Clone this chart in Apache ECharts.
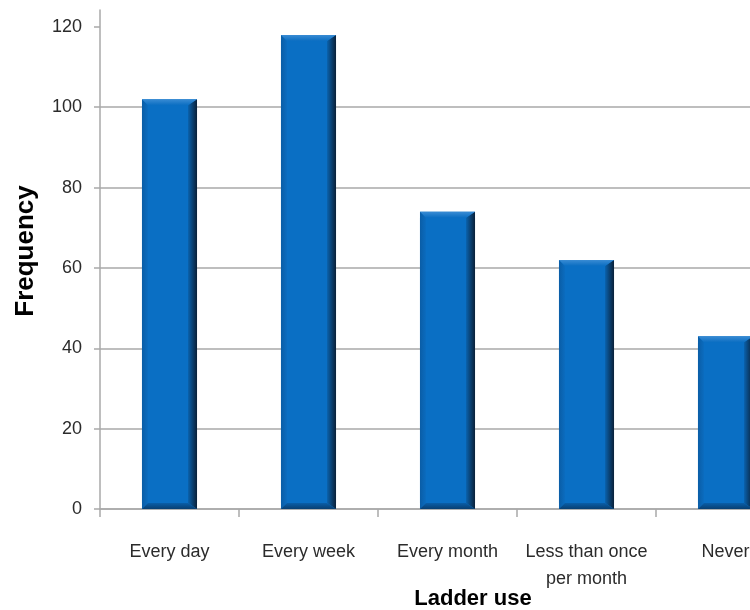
<!DOCTYPE html>
<html>
<head>
<meta charset="utf-8">
<title>Ladder use</title>
<script src="https://cdn.jsdelivr.net/npm/echarts@6/dist/echarts.min.js"></script>
<style>
  html, body { margin: 0; padding: 0; background: #ffffff; overflow: hidden; }
  /* plot area runs past the right edge of the window, so the last column is cut off */
  #chart { width: 800px; height: 610px; }
</style>
</head>
<body>
<div id="chart"></div>
<script>
// How often respondents use a ladder
const categories = ['Every day', 'Every week', 'Every month', 'Less than once\nper month', 'Never'];
const frequency = [102, 118, 74, 62, 43];
const yTicks = [0, 20, 40, 60, 80, 100, 120];

const FONT = '"Liberation Sans", Arial, sans-serif';
const GRID_COLOR = '#a9a9a9';

function grad(x, y, x2, y2, c0, c1) {
  return new echarts.graphic.LinearGradient(x, y, x2, y2, [
    { offset: 0, color: c0 }, { offset: 1, color: c1 }
  ]);
}

// Bevelled column: body plus four edge facets
function renderBar(params, api) {
  const idx = api.value(0);
  const val = api.value(1);
  const top = api.coord([idx, val]);
  const base = api.coord([idx, 0]);
  const bw = api.size([1, 0])[0] * 0.396;
  const x0 = top[0] - bw / 2, x1 = top[0] + bw / 2;
  const y0 = top[1], y1 = base[1];
  const b = 6, br = 9;
  return {
    type: 'group',
    children: [
      { type: 'rect', shape: { x: x0, y: y0, width: bw, height: y1 - y0 },
        style: { fill: '#0a6fc4' } },
      { type: 'polygon', shape: { points: [[x0, y0], [x0 + b, y0 + b], [x0 + b, y1 - b], [x0, y1]] },
        style: { fill: grad(0, 0, 1, 0, '#0a5da6', '#0b6cbf') } },
      { type: 'polygon', shape: { points: [[x1 - br, y0 + b], [x1, y0], [x1, y1], [x1 - br, y1 - b]] },
        style: { fill: grad(0, 0, 1, 0, '#0a62ad', '#0a2038') } },
      { type: 'polygon', shape: { points: [[x0, y0], [x1, y0], [x1 - br, y0 + b], [x0 + b, y0 + b]] },
        style: { fill: grad(0, 0, 0, 1, '#3a8cd4', '#0b6ec2') } },
      { type: 'polygon', shape: { points: [[x0 + b, y1 - b], [x1 - br, y1 - b], [x1, y1], [x0, y1]] },
        style: { fill: grad(0, 0, 0, 1, '#0a5ea8', '#083f72') } }
    ]
  };
}

const chart = echarts.init(document.getElementById('chart'), null, { renderer: 'canvas' });

chart.setOption({
  backgroundColor: '#ffffff',
  animation: false,
  grid: { left: 100, top: 10, width: 695, height: 499, containLabel: false },
  xAxis: {
    type: 'category',
    data: categories,
    boundaryGap: true,
    axisLine: { show: true, lineStyle: { color: GRID_COLOR, width: 1.5 } },
    axisTick: { show: true, length: 8, alignWithLabel: false, lineStyle: { color: GRID_COLOR, width: 1.5 } },
    axisLabel: {
      interval: 0, margin: 30, fontSize: 18, lineHeight: 27,
      color: '#2b2b2b', fontFamily: FONT
    },
    splitLine: { show: false }
  },
  yAxis: {
    type: 'value',
    min: 0,
    max: 124.2,
    interval: 20,
    axisLine: { show: true, lineStyle: { color: GRID_COLOR, width: 1.5 } },
    axisTick: { show: true, length: 6, customValues: yTicks, lineStyle: { color: GRID_COLOR, width: 1.5 } },
    axisLabel: {
      customValues: yTicks, margin: 18, fontSize: 18,
      color: '#2b2b2b', fontFamily: FONT
    },
    splitLine: { show: true, showMaxLine: false, lineStyle: { color: GRID_COLOR, width: 1.5 } }
  },
  series: [{
    type: 'custom',
    renderItem: renderBar,
    encode: { x: 0, y: 1 },
    data: frequency.map((v, i) => [i, v]),
    z: 3
  }],
  graphic: [
    {
      type: 'text', x: 26, y: 251, rotation: Math.PI / 2,
      style: {
        text: 'Frequency', x: 0, y: 0, textAlign: 'center', textVerticalAlign: 'middle',
        font: 'bold 26px ' + FONT, fill: '#000000'
      }
    },
    {
      type: 'text', x: 473, y: 599,
      style: {
        text: 'Ladder use', x: 0, y: 0, textAlign: 'center', textVerticalAlign: 'middle',
        font: 'bold 22px ' + FONT, fill: '#000000'
      }
    }
  ]
});
</script>
</body>
</html>
